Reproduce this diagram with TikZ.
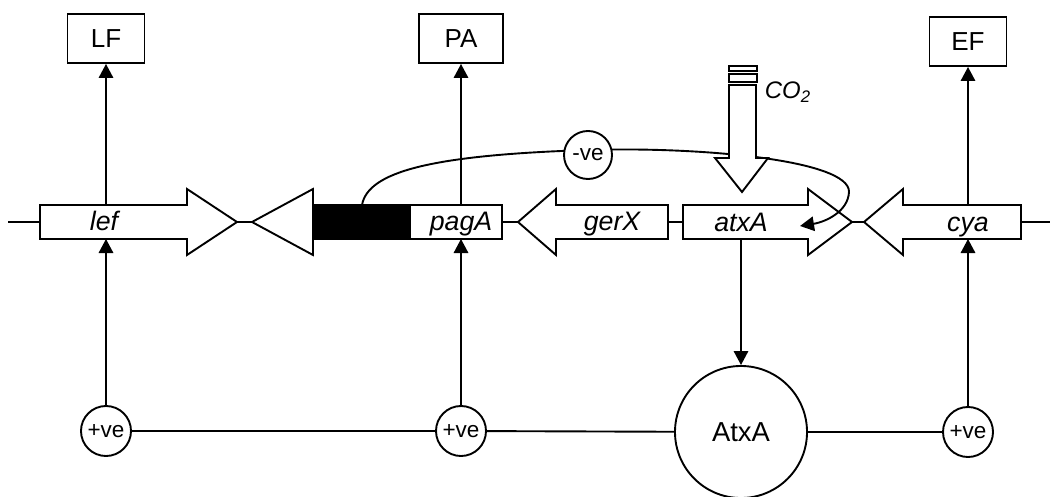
\documentclass[tikz,border=0pt]{standalone}
\usepackage{fontspec}
\setmainfont{Liberation Sans}
\usetikzlibrary{arrows.meta}
\begin{document}
\begin{tikzpicture}[x=0.025cm,y=-0.025cm,line width=1.35pt,
  genelab/.style={font=\fontsize{19}{21}\selectfont\itshape,inner sep=0,anchor=base},
  prodbox/.style={draw,fill=white,inner sep=0,minimum height=12.25mm,font=\fontsize{18.5}{20}\selectfont},
  regc/.style={draw,fill=white,circle,inner sep=0,minimum size=12.5mm,font=\fontsize{16}{18}\selectfont},
  genearrow/.style={draw,fill=white,line join=miter},
  arr/.style={-{Triangle[length=3.5mm,width=3.6mm]}}
]
\useasboundingbox (0,0) rectangle (1050,497);

% backbone
\coordinate (bbL) at (8,222);
\coordinate (bbR) at (1050,222);
\draw (bbL) -- (40,222);
\draw (237,222) -- (252,222);
\draw (502,222) -- (518,222);
\draw (668,222) -- (683,222);
\draw (852,222) -- (864,222);
\draw (1021,222) -- (bbR);

% gene arrows
\draw[genearrow] (40,205) -- (187,205) -- (187,189) -- (237,222) -- (187,255) -- (187,239) -- (40,239) -- cycle;
\draw[genearrow] (252,222) -- (313,189) -- (313,205) -- (502,205) -- (502,239) -- (313,239) -- (313,255) -- cycle;
\draw[fill=black] (313,205) rectangle (410,239);
\draw[genearrow] (518,222) -- (556,189) -- (556,205) -- (668,205) -- (668,239) -- (556,239) -- (556,255) -- cycle;
\draw[genearrow] (683,205) -- (808,205) -- (808,189) -- (852,222) -- (808,255) -- (808,239) -- (683,239) -- cycle;
\draw[genearrow] (864,222) -- (903,189) -- (903,205) -- (1021,205) -- (1021,239) -- (903,239) -- (903,255) -- cycle;

% gene labels
\node[genelab] (lef) at (104,231) {lef};
\node[genelab] (pagA) at (461,231) {pagA};
\node[genelab] (gerX) at (612,231) {gerX};
\node[genelab] (atxA) at (741,232) {atxA};
\node[genelab] (cya) at (968,232) {cya};

% named connection points on the genes
\coordinate (lefT) at (106,205);
\coordinate (lefB) at (106,239);
\coordinate (pagT) at (461,205);
\coordinate (pagB) at (461,239);
\coordinate (atxB) at (741,239);
\coordinate (cyaT) at (968,205);
\coordinate (cyaB) at (968,239);
\coordinate (negStart) at (362,205);
\coordinate (negMid) at (588,150);
\coordinate (negEnd) at (800,226);

% -ve feedback curve
\draw[-{Triangle[length=3.5mm,width=3.6mm]}] (negStart) .. controls (368,172) and (430,155) .. (negMid)
  .. controls (700,146.5) and (850,160) .. (849,192)
  .. controls (848,212) and (825,222) .. (negEnd);
\node[draw,fill=white,circle,inner sep=0,minimum width=12mm,font=\fontsize{16}{18}\selectfont] (neg) at (588,155) {-ve};

% CO2 arrow
\draw[genearrow] (729,85) -- (756,85) -- (756,158) -- (768,158) -- (742,192) -- (715,158) -- (729,158) -- cycle;
\draw[line width=1.1pt] (729,66) rectangle (757,71);
\draw[line width=1.1pt] (729,74) rectangle (757,82);
\node[font=\fontsize{17}{19}\selectfont\itshape,inner sep=0,anchor=base west] (co2) at (764,99) {CO\textsubscript{2}};

% products
\node[prodbox,minimum width=19.25mm] (LF) at (106,38.5) {LF};
\node[prodbox,minimum width=21mm] (PA) at (461,38.5) {PA};
\node[prodbox,minimum width=19.25mm] (EF) at (968,41.5) {EF};

% regulators
\node[regc] (posL) at (106,431) {+ve};
\node[regc] (posM) at (461,431) {+ve};
\node[regc] (posR) at (968,432) {+ve};
\node[draw,fill=white,circle,inner sep=0,minimum size=33mm,font=\fontsize{19.5}{21}\selectfont] (AtxA) at (741,432) {AtxA};

\draw (posL) -- (posM) -- (AtxA) -- (posR);

% arrows
\draw[arr] (lefT) -- (LF);
\draw[arr] (pagT) -- (PA);
\draw[arr] (cyaT) -- (EF);
\draw[arr] (posL) -- (lefB);
\draw[arr] (posM) -- (pagB);
\draw[arr] (posR) -- (cyaB);
\draw[arr] (atxB) -- (AtxA);
\end{tikzpicture}
\end{document}
